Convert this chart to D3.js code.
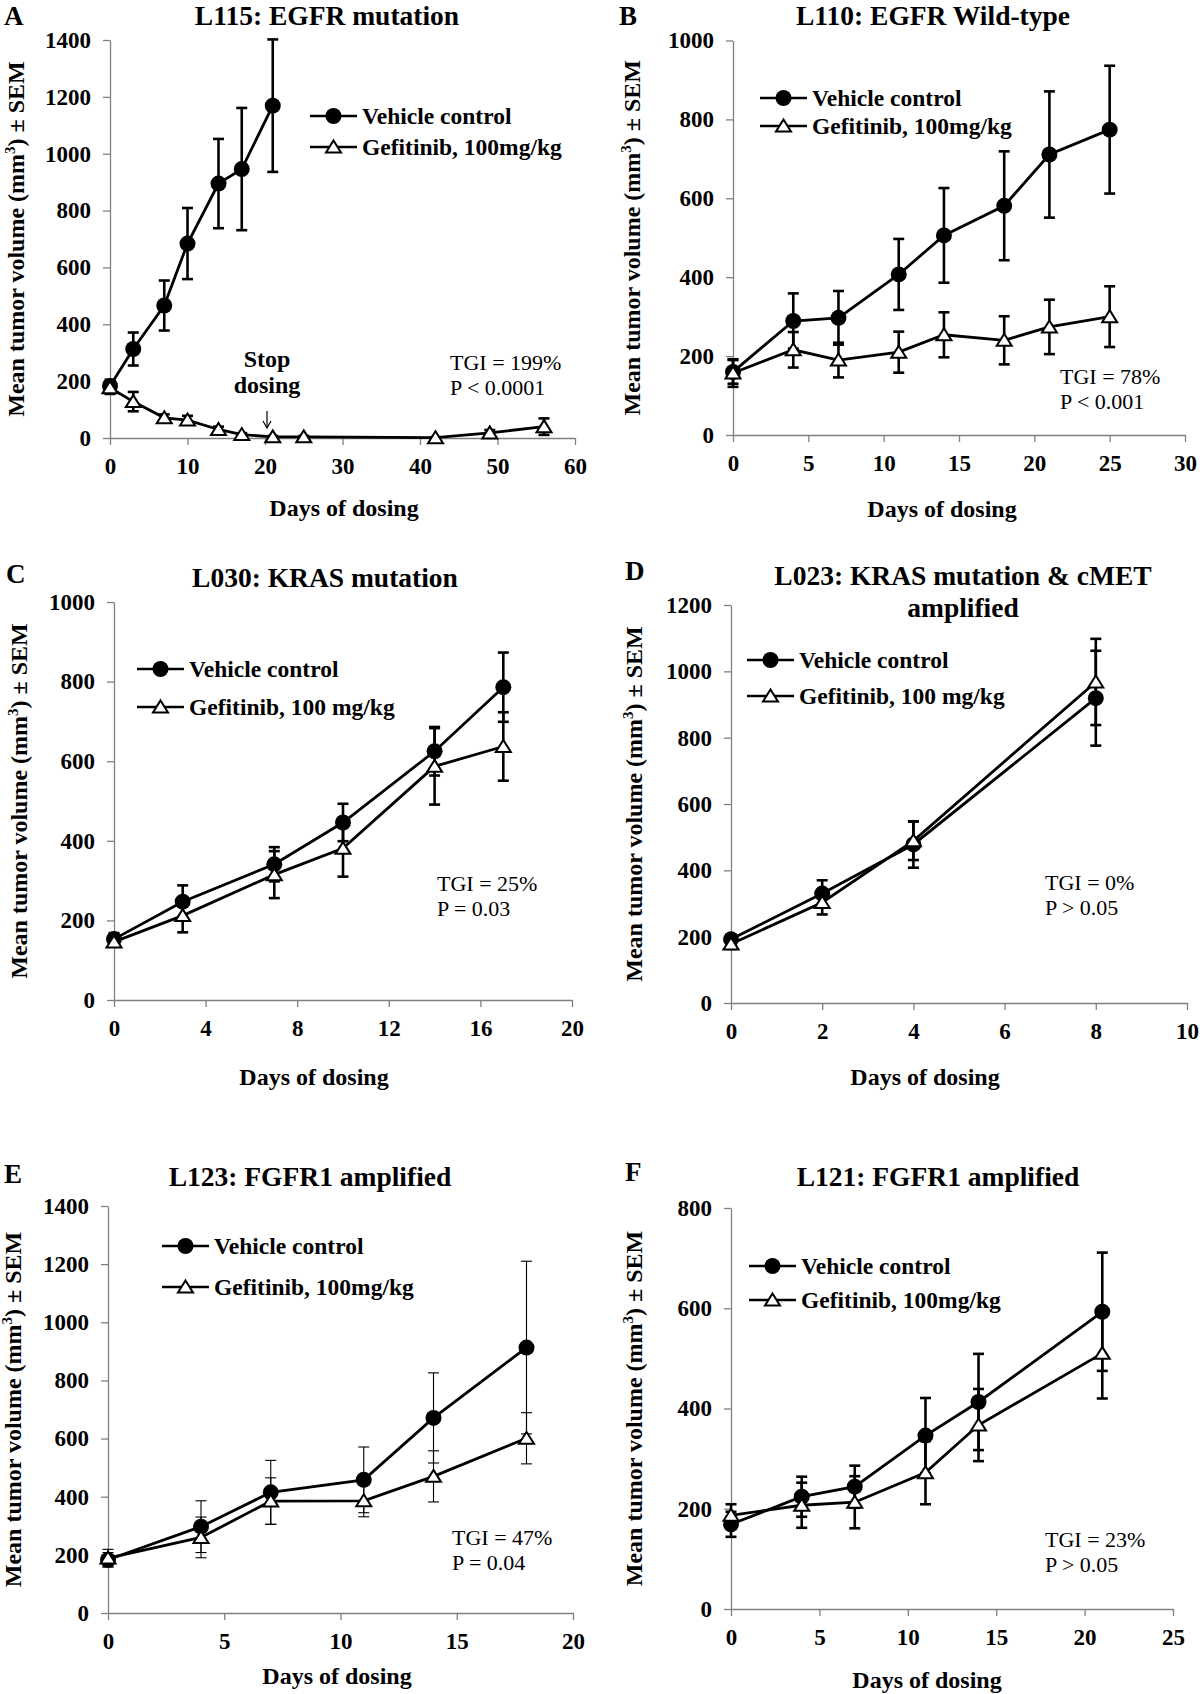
<!DOCTYPE html>
<meta charset="utf-8">
<style>
body { margin: 0; background: #fff; }
svg { display: block; background: #fff; }
text { font-family: "Liberation Serif", "Times New Roman", serif; fill: #000; }
.axis path, .axis line { stroke: #808080; stroke-width: 1.3px; }
.axis text { font-size: 23px; font-weight: bold; fill: #000; }
.line { fill: none; stroke: #000; stroke-width: 2.8px; }
</style>
<svg width="1200" height="1694"></svg>
<script src="https://cdn.jsdelivr.net/npm/d3@7"></script>
<script>

// panel A: L115
var daysVehA = [0, 3, 7, 10, 14, 17, 21];
var vehA = [183, 313, 466, 684, 895, 946, 1169];
var vehSemA = [22, 58, 88, 125, 157, 215, 233];
var daysGefA = [0, 3, 7, 10, 14, 17, 21, 25, 42, 49, 56];
var gefA = [177, 128, 71, 63, 30, 12, 4, 4, 1, 18, 40];
var gefSemA = [22, 34, 12, 15, 10, 5, 3, 3, 2, 10, 29];

// panel B: L110
var daysB = [0, 4, 7, 11, 14, 18, 21, 25];
var vehB = [160, 289, 297, 407, 506, 581, 711, 774];
var vehSemB = [30, 70, 68, 90, 120, 138, 160, 162];
var gefB = [157, 216, 190, 210, 254, 240, 274, 300];
var gefSemB = [35, 45, 44, 52, 57, 61, 69, 77];

// panel C: L030
var daysC = [0, 3, 7, 10, 14, 17];
var vehC = [153, 247, 341, 446, 625, 786];
var vehSemC = [15, 41, 43, 47, 61, 87];
var gefC = [146, 212, 315, 381, 587, 637];
var gefSemC = [12, 42, 59, 71, 96, 86];

// panel D: L023
var daysD = [0, 2, 4, 8];
var vehD = [192, 330, 478, 919];
var vehSemD = [15, 40, 70, 143];
var gefD = [178, 303, 489, 968];
var gefSemD = [15, 36, 58, 130];

// panel E: L123
var daysE = [0, 4, 7, 11, 14, 18];
var vehE = [183, 297, 415, 458, 671, 913];
var vehSemE = [25, 89, 110, 113, 155, 297];
var gefE = [189, 260, 385, 386, 470, 601];
var gefSemE = [30, 70, 80, 55, 88, 88];

// panel F: L121
var daysF = [0, 4, 7, 11, 14, 21];
var vehF = [169, 224, 244, 346, 413, 593];
var vehSemF = [25, 40, 42, 75, 96, 118];
var gefF = [187, 207, 213, 272, 367, 510];
var gefSemF = [22, 45, 52, 63, 72, 90];

var panelLetters = ["A", "B", "C", "D", "E", "F"];
var titles = [
  ["L115: EGFR mutation"],
  ["L110: EGFR Wild-type"],
  ["L030: KRAS mutation"],
  ["L023: KRAS mutation & cMET", "amplified"],
  ["L123: FGFR1 amplified"],
  ["L121: FGFR1 amplified"]
];
var gefLabels = ["Gefitinib, 100mg/kg", "Gefitinib, 100mg/kg", "Gefitinib, 100 mg/kg",
                 "Gefitinib, 100 mg/kg", "Gefitinib, 100mg/kg", "Gefitinib, 100mg/kg"];
var statLines = [
  ["TGI = 199%", "P < 0.0001"],
  ["TGI = 78%", "P < 0.001"],
  ["TGI = 25%", "P = 0.03"],
  ["TGI = 0%", "P > 0.05"],
  ["TGI = 47%", "P = 0.04"],
  ["TGI = 23%", "P > 0.05"]
];
var xMax = [60, 30, 20, 10, 20, 25], xStep = [10, 5, 4, 2, 5, 5];
var yMax = [1400, 1000, 1000, 1200, 1400, 800];

// layout of each panel (pixels)
var layout = [
  {l: 110, r: 575, t: 40, b: 438, letter: [4, 25], title: [327, 25], ylab: 24, days: [344, 516], leg: [310, 116, 147], stat: [450, 370], err: 2.6},
  {l: 733, r: 1185, t: 40.5, b: 435, letter: [619, 25], title: [933, 25], ylab: 640, days: [942, 517], leg: [760, 98, 126], stat: [1060, 384], err: 2.6},
  {l: 114, r: 572, t: 602, b: 1000, letter: [6, 583], title: [325, 587], ylab: 27, days: [314, 1085], leg: [137, 669, 707], stat: [437, 891], err: 2.6},
  {l: 731, r: 1187, t: 605, b: 1003, letter: [625, 580], title: [963, 585], ylab: 642, days: [925, 1085], leg: [747, 660, 696], stat: [1045, 890], err: 2.6},
  {l: 108, r: 573, t: 1206, b: 1613, letter: [4, 1183], title: [310, 1186], ylab: 21, days: [337, 1684], leg: [162, 1246, 1287], stat: [452, 1545], err: 1.1},
  {l: 731, r: 1173, t: 1208, b: 1609, letter: [625, 1181], title: [938, 1186], ylab: 642, days: [927, 1688], leg: [749, 1266, 1300], stat: [1045, 1547], err: 2.6}
];

var series = [
  [{days: daysVehA, mean: vehA, sem: vehSemA, mark: "circle"}, {days: daysGefA, mean: gefA, sem: gefSemA, mark: "tri"}],
  [{days: daysB, mean: vehB, sem: vehSemB, mark: "circle"}, {days: daysB, mean: gefB, sem: gefSemB, mark: "tri"}],
  [{days: daysC, mean: vehC, sem: vehSemC, mark: "circle"}, {days: daysC, mean: gefC, sem: gefSemC, mark: "tri"}],
  [{days: daysD, mean: vehD, sem: vehSemD, mark: "circle"}, {days: daysD, mean: gefD, sem: gefSemD, mark: "tri"}],
  [{days: daysE, mean: vehE, sem: vehSemE, mark: "circle"}, {days: daysE, mean: gefE, sem: gefSemE, mark: "tri"}],
  [{days: daysF, mean: vehF, sem: vehSemF, mark: "circle"}, {days: daysF, mean: gefF, sem: gefSemF, mark: "tri"}]
];

var svg = d3.select("svg");
var triPath = "M0,-6.5L7.5,5.5L-7.5,5.5Z";

function drawMarker(sel, mark) {
  if (mark === "circle") {
    sel.append("circle").attr("r", 8).attr("fill", "#000");
  } else {
    sel.append("path").attr("d", triPath).attr("fill", "#fff")
      .attr("stroke", "#000").attr("stroke-width", 2).attr("stroke-linejoin", "miter");
  }
}

panelLetters.forEach(function(letter, i) {
  var p = layout[i];
  var g = svg.append("g");
  var x = d3.scaleLinear().domain([0, xMax[i]]).range([p.l, p.r]);
  var y = d3.scaleLinear().domain([0, yMax[i]]).range([p.b, p.t]);

  // axes
  g.append("g").attr("class", "axis")
      .attr("transform", "translate(0," + p.b + ")")
      .call(d3.axisBottom(x).tickValues(d3.range(0, xMax[i] + 0.1, xStep[i]))
        .tickFormat(d3.format("d")).tickSize(7).tickSizeOuter(0).tickPadding(13));
  g.append("g").attr("class", "axis")
      .attr("transform", "translate(" + p.l + ",0)")
      .call(d3.axisLeft(y).tickValues(d3.range(0, yMax[i] + 1, 200))
        .tickFormat(d3.format("d")).tickSize(7).tickSizeOuter(0).tickPadding(12));

  // error bars and lines
  series[i].forEach(function(s) {
    var pts = s.days.map(function(d, k) { return {day: d, m: s.mean[k], e: s.sem[k]}; });
    var eb = g.append("g").attr("stroke", "#000").attr("stroke-width", p.err);
    pts.forEach(function(d) {
      var cx = x(d.day);
      eb.append("line").attr("x1", cx).attr("x2", cx).attr("y1", y(d.m - d.e)).attr("y2", y(d.m + d.e));
      eb.append("line").attr("x1", cx - 5.5).attr("x2", cx + 5.5).attr("y1", y(d.m + d.e)).attr("y2", y(d.m + d.e));
      eb.append("line").attr("x1", cx - 5.5).attr("x2", cx + 5.5).attr("y1", y(d.m - d.e)).attr("y2", y(d.m - d.e));
    });
    g.append("path").attr("class", "line")
      .attr("d", d3.line().x(function(d) { return x(d.day); }).y(function(d) { return y(d.m); })(pts));
  });
  // markers
  series[i].forEach(function(s) {
    s.days.forEach(function(d, k) {
      var m = g.append("g").attr("transform", "translate(" + x(d) + "," + y(s.mean[k]) + ")");
      drawMarker(m, s.mark);
    });
  });

  // panel letter and title
  g.append("text").attr("x", p.letter[0]).attr("y", p.letter[1])
    .style("font-size", "27px").style("font-weight", "bold").text(letter);
  titles[i].forEach(function(t, k) {
    g.append("text").attr("x", p.title[0]).attr("y", p.title[1] + k * 32)
      .attr("text-anchor", "middle").style("font-size", "27.5px").style("font-weight", "bold").text(t);
  });

  // axis titles
  g.append("text").attr("x", p.days[0]).attr("y", p.days[1]).attr("text-anchor", "middle")
    .style("font-size", "24px").style("font-weight", "bold").text("Days of dosing");
  var yl = g.append("text")
    .attr("transform", "translate(" + p.ylab + "," + ((p.t + p.b) / 2) + ") rotate(-90)")
    .attr("text-anchor", "middle").style("font-size", "24px").style("font-weight", "bold");
  yl.append("tspan").text("Mean tumor volume (mm");
  yl.append("tspan").attr("dy", -9).style("font-size", "15px").text("3");
  yl.append("tspan").attr("dy", 9).text(") \u00b1 SEM");

  // legend
  var legNames = ["Vehicle control", gefLabels[i]];
  legNames.forEach(function(name, k) {
    var ly = p.leg[1 + k];
    g.append("line").attr("x1", p.leg[0]).attr("x2", p.leg[0] + 47)
      .attr("y1", ly).attr("y2", ly).attr("stroke", "#000").attr("stroke-width", 2.7);
    var m = g.append("g").attr("transform", "translate(" + (p.leg[0] + 23.5) + "," + ly + ")");
    drawMarker(m, series[i][k].mark);
    g.append("text").attr("x", p.leg[0] + 52).attr("y", ly + 7.5)
      .style("font-size", "23.5px").style("font-weight", "bold").text(name);
  });

  // statistics
  statLines[i].forEach(function(t, k) {
    g.append("text").attr("x", p.stat[0]).attr("y", p.stat[1] + k * 25)
      .style("font-size", "22px").text(t);
  });

  // stop dosing annotation on panel A
  if (i === 0) {
    g.append("text").attr("x", 267).attr("y", 367).attr("text-anchor", "middle")
      .style("font-size", "24px").style("font-weight", "bold").text("Stop");
    g.append("text").attr("x", 267).attr("y", 393).attr("text-anchor", "middle")
      .style("font-size", "24px").style("font-weight", "bold").text("dosing");
    g.append("line").attr("x1", 267).attr("x2", 267).attr("y1", 411).attr("y2", 427)
      .attr("stroke", "#000").attr("stroke-width", 1.2);
    g.append("path").attr("d", "M263,421L267,428L271,421").attr("fill", "none")
      .attr("stroke", "#000").attr("stroke-width", 1.2);
  }
});

</script>
